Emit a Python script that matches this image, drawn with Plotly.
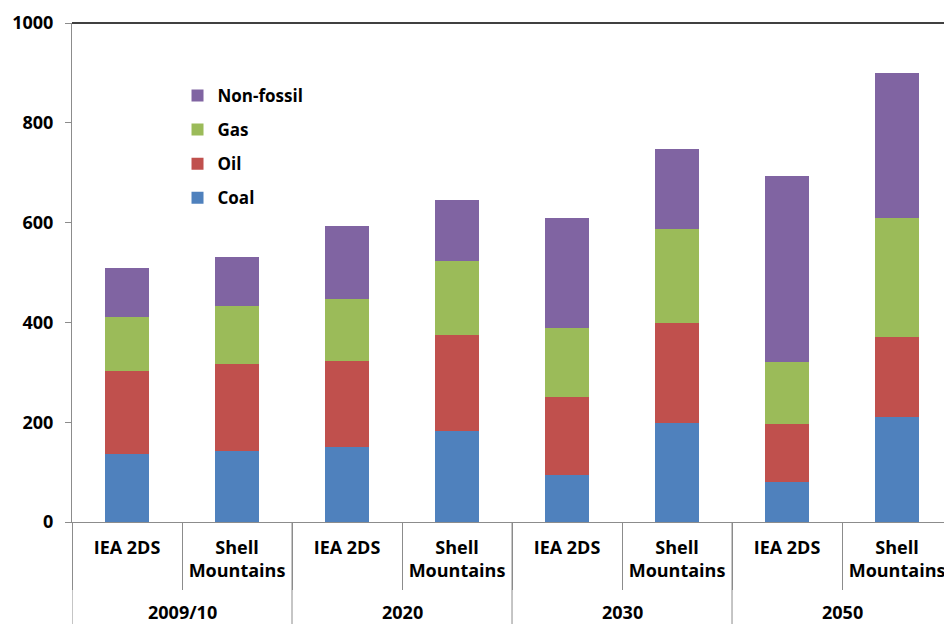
import plotly.graph_objects as go

periods = ["2009/10", "2009/10", "2020", "2020", "2030", "2030", "2050", "2050"]
scenarios = ["IEA 2DS", "Shell<br>Mountains"] * 4
group_names = ["2009/10", "2020", "2030", "2050"]

coal = [137, 143, 150, 183, 95, 199, 80, 210]
oil = [166, 174, 173, 191, 155, 200, 117, 161]
gas = [107, 116, 124, 150, 139, 188, 124, 238]
nonfossil = [99, 99, 146, 122, 220, 160, 373, 291]

series = [
    ("Coal", coal, "#4F81BD"),
    ("Oil", oil, "#C0504D"),
    ("Gas", gas, "#9BBB59"),
    ("Non-fossil", nonfossil, "#8064A2"),
]

y_ticks = [0, 200, 400, 600, 800, 1000]

FONT = "Open Sans"
AXIS_GREY = "#8c8c8c"

keys = [f"{p} {s}" for p, s in zip(periods, scenarios)]

fig = go.Figure()
n = len(series)
for i, (name, vals, color) in enumerate(series):
    fig.add_trace(go.Bar(
        x=keys, y=vals, name=name,
        marker=dict(color=color, line=dict(width=0)),
        width=0.4, legendgroup=name, legendrank=n - i,
    ))

fig.update_layout(
    barmode="stack",
    width=944, height=624,
    margin=dict(l=72, r=0, t=23, b=102),
    plot_bgcolor="white", paper_bgcolor="white",
    font=dict(family=FONT, size=17, color="black"),
    showlegend=True,
    legend=dict(
        x=0.121, y=0.89, xanchor="left", yanchor="top",
        traceorder="grouped", tracegroupgap=9,
        font=dict(family=FONT, size=17, color="black", weight="bold"),
        bgcolor="rgba(0,0,0,0)",
        itemwidth=30,
    ),
    xaxis=dict(
        type="category",
        categoryorder="array", categoryarray=keys,
        tickvals=keys, ticktext=scenarios,
        range=[-0.5, 7.427],
        showline=True, linecolor=AXIS_GREY, linewidth=1,
        ticks="outside", tickson="boundaries", ticklen=67, tickcolor=AXIS_GREY,
        tickfont=dict(family=FONT, size=18, color="black", weight="bold"),
        ticklabelstandoff=9,
        showgrid=False,
    ),
    yaxis=dict(
        range=[0, 1000], tickvals=y_ticks,
        showline=True, linecolor=AXIS_GREY, linewidth=1,
        ticks="outside", ticklen=6, tickcolor=AXIS_GREY,
        tickfont=dict(family=FONT, size=18, color="black", weight="bold"),
        showgrid=False, zeroline=False,
        ticklabelstandoff=8,
    ),
)

# group dividers and group labels, positioned from category indices
for g, gname in enumerate(group_names):
    idx = [k for k, p in enumerate(periods) if p == gname]
    left = min(idx) - 0.5
    center = sum(idx) / len(idx)
    fig.add_shape(type="line", xref="x", yref="paper", x0=left, x1=left,
                  y0=0, y1=-0.21, line=dict(color=AXIS_GREY, width=1))
    fig.add_annotation(x=center, xref="x", y=-0.181, yref="paper",
                       text=gname, showarrow=False, yanchor="middle",
                       font=dict(family=FONT, size=18, color="black", weight="bold"))

fig.add_shape(type="line", xref="paper", yref="paper", x0=0, x1=1, y0=1, y1=1,
              line=dict(color="black", width=1.5))

fig.write_html("out.html")
